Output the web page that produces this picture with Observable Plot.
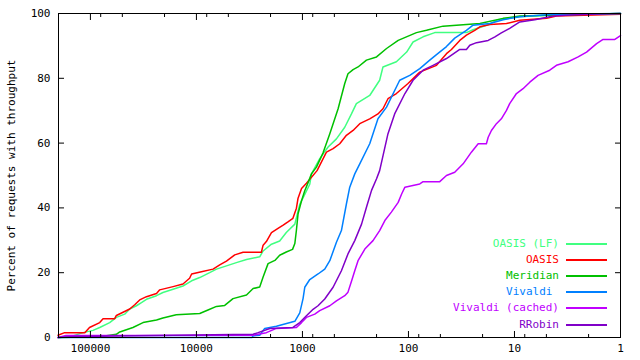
<!DOCTYPE html>
<html><head><meta charset="utf-8">
<script src="https://cdn.jsdelivr.net/npm/d3@7"></script>
<script src="https://cdn.jsdelivr.net/npm/@observablehq/plot@0.6"></script>
<style>
body{margin:0;background:#fff;}
#wrap{position:relative;width:640px;height:360px;font-family:"DejaVu Sans Mono",monospace;}
.lt{position:absolute;font-size:11px;white-space:pre;line-height:16px;height:16px;text-align:right;}
.ll{position:absolute;height:2px;}
</style></head><body><div id="wrap"></div>
<script>
// throughput value, percent of requests
const oasisLF = [[202000,0],[157000,0.2],[117000,1.5],[94500,2.2],[81700,3.1],[65800,4.6],[56900,6.2],[47500,7.2],[42600,8.8],[36800,9.8],[33000,10.8],[29600,11.8],[23800,12.9],[20700,13.9],[16600,14.9],[13400,15.9],[11100,17.5],[9310,18.5],[7500,20],[6470,21.1],[5210,22.1],[4200,23.1],[3370,24.1],[2530,24.9],[2350,26.7],[1960,28.8],[1640,29.8],[1420,32.4],[1180,35],[1120,38],[1060,41.1],[951,44.2],[853,47.3],[822,50.5],[687,55.2],[573,58.8],[478,61.3],[399,64.9],[345,69],[310,72.2],[232,74.7],[187,79.4],[174,83.5],[130,85.1],[104,88.1],[90.5,91.2],[72.8,92.8],[56.5,94.1],[28.4,94.1],[24.6,95],[17.1,96.7],[14.3,98.1],[8.91,99],[4.35,99.5],[1,100]];
const oasis = [[202000,0.7],[175000,1.5],[113000,1.5],[102000,3.1],[81700,4.6],[76000,5.8],[59000,5.8],[56900,6.8],[49200,7.8],[42600,8.8],[38200,10.1],[34300,11.6],[29600,12.6],[23800,13.6],[22200,14.7],[16600,15.7],[13400,16.5],[11600,18.3],[11100,19.6],[8970,20.3],[6970,21.1],[6030,22.4],[5210,23.6],[4350,25.5],[3630,26.3],[2440,26.3],[2350,28.5],[2190,29.6],[1960,32.4],[1700,33.7],[1520,34.7],[1370,35.7],[1230,36.8],[1140,39.9],[1100,43],[1020,46],[917,47.6],[728,51.5],[594,57.2],[514,58.3],[445,59.8],[385,62.4],[333,63.9],[288,66],[232,67.5],[194,69],[174,70.6],[156,73.7],[130,75.3],[101,78.4],[84.1,80.9],[78.2,81.9],[54.4,84],[43.8,87.6],[39.3,88.9],[32.8,91.7],[28.4,93.3],[23.7,94.8],[21.2,95.9],[17.1,96.6],[11.9,96.9],[8.91,97.9],[4.99,98.5],[4.02,99.2],[1,99.8]];
const meridian = [[202000,0],[81700,0.2],[56900,1],[52900,1.7],[39700,3.1],[31900,4.6],[23800,5.4],[20700,6],[15500,7],[9310,7.4],[7780,8.5],[6470,9.6],[5410,9.9],[4520,12],[3370,13.1],[2920,15.1],[2530,15.6],[2350,18.7],[2110,22.8],[1820,23.8],[1640,25.4],[1420,26.4],[1240,27.2],[1180,29],[1140,33.1],[1100,38.2],[1020,42.2],[951,45.3],[885,47.8],[822,50.5],[738,52.6],[639,57],[552,62.9],[461,70.6],[399,78.4],[372,81.4],[333,82.7],[299,83.5],[249,85.6],[200,86.6],[161,89.2],[125,91.7],[84.1,94.1],[67.6,94.8],[47.2,96.1],[21.2,96.9],[12.8,98.5],[8.91,99.2],[2.09,99.8],[1,100]];
const vivaldi = [[202000,0],[3000,0],[2920,0.5],[2530,0.7],[2270,2.8],[1760,3.5],[1180,5],[1060,7.6],[987,12],[951,15.5],[853,17.9],[713,19.6],[616,21.1],[552,23.7],[478,29.4],[429,33],[385,41.2],[358,46.4],[321,50.5],[288,53.6],[232,59.8],[194,67.5],[161,71.1],[121,79.4],[97.2,80.9],[78.2,83],[63,85.6],[54.4,87.3],[43.8,89.8],[36.6,92.4],[28.4,94.8],[24.6,96.4],[17.1,96.9],[12.8,98.1],[8.91,99],[4.32,99.8],[1,100]];
const vivaldiCached = [[202000,0],[170000,0.6],[2920,0.7],[2190,1.5],[1760,2.8],[1140,3.1],[1020,4.6],[917,6.2],[765,7.2],[687,8.3],[552,9.8],[478,11.3],[399,12.9],[372,14],[340,18],[321,20.6],[299,23.7],[258,27.3],[216,29.9],[187,33],[167,36.1],[145,38.7],[125,41.7],[116,44.3],[108,46.4],[78.2,47.4],[72.8,48.1],[50.7,48.1],[43.8,50],[36.6,51],[30.5,53.6],[25.5,57.2],[22,59.8],[18.4,59.8],[17.7,61.8],[16.5,63.9],[14.8,66],[13.3,67.5],[11.9,70.1],[11.1,72.2],[9.58,75.3],[8.3,76.8],[7.17,78.8],[5.99,80.9],[4.65,82.5],[4.02,84],[3.12,85.1],[2.51,86.6],[2.09,88.1],[1.68,90.7],[1.46,92],[1.13,92],[1,93.2]];
const rrobin = [[202000,0],[140000,0.3],[2920,1],[2620,1.5],[2030,2.8],[1230,3.1],[1060,4.6],[917,6.7],[794,8.7],[713,9.8],[616,11.9],[514,15.5],[429,20.6],[372,25.8],[321,29.9],[277,35],[249,40.2],[223,45.4],[200,49],[187,51.5],[156,62.9],[135,69],[108,75.3],[90.5,79.4],[72.8,82.5],[58.6,84],[43.8,86.1],[32.8,88.9],[28.4,88.9],[26.4,90.2],[22.8,91],[17.7,91.7],[15.3,92.8],[13.3,94],[11.1,95.4],[8.91,97.4],[6.43,98.1],[4.32,99.2],[3.01,99.5],[1.95,99.8],[1,100]];

const seriesNames = ["OASIS (LF)", "OASIS", "Meridian", "Vivaldi ", "Vivaldi (cached)", "RRobin"];
const seriesColors = ["#40ff80", "#ff0000", "#00c000", "#0080ff", "#c000ff", "#8000c8"];
const seriesData = [oasisLF, oasis, meridian, vivaldi, vivaldiCached, rrobin];
const xMajorTicks = [100000, 10000, 1000, 100, 10, 1];
const xMinorTicks = [80000, 50000, 20000, 8000, 5000, 2000, 800, 500, 200, 80, 50, 20, 8, 5, 2];
const yTicks = [0, 20, 40, 60, 80, 100];
const yLabel = "Percent of requests with throughput";

const font = "DejaVu Sans Mono, monospace";
const chart = Plot.plot({
  width: 640, height: 360,
  marginLeft: 58, marginRight: 20, marginTop: 13, marginBottom: 23,
  style: {fontFamily: font, fontSize: "11px", background: "white", color: "black", overflow: "visible"},
  x: {type: "log", domain: [200000, 1], axis: null},
  y: {domain: [0, 100], axis: null},
  marks: [
    ...seriesData.map((data, i) => Plot.line(data, {x: d => d[0], y: d => d[1], stroke: seriesColors[i], strokeWidth: 1.5, curve: "linear"})),
    Plot.frame({stroke: "black", strokeWidth: 1}),
    Plot.axisX({ticks: xMajorTicks, anchor: "bottom", tickSize: 6, dy: -6, tickFormat: () => ""}),
    Plot.axisX({ticks: xMajorTicks, anchor: "top", tickSize: 6, dy: 6, tickFormat: () => ""}),
    Plot.axisX({ticks: xMinorTicks, anchor: "bottom", tickSize: 3, dy: -3, tickFormat: () => ""}),
    Plot.axisX({ticks: xMinorTicks, anchor: "top", tickSize: 3, dy: 3, tickFormat: () => ""}),
    Plot.axisX({ticks: xMajorTicks, anchor: "bottom", tickSize: 0, tickPadding: 7, tickFormat: d3.format("d"), fontSize: 11}),
    Plot.axisY({ticks: yTicks, anchor: "left", tickSize: 6, dx: 6, tickFormat: () => ""}),
    Plot.axisY({ticks: yTicks, anchor: "right", tickSize: 6, dx: -6, tickFormat: () => ""}),
    Plot.axisY({ticks: yTicks, anchor: "left", tickSize: 0, tickPadding: 8, tickFormat: d3.format("d"), fontSize: 11}),
    Plot.text([yLabel], {text: d => d, frameAnchor: "left", dx: -47, rotate: -90, textAnchor: "middle", lineAnchor: "middle", fontSize: 11})
  ]
});
const wrap = document.getElementById("wrap");
wrap.appendChild(chart);

// legend inside plot, bottom right
seriesNames.forEach((name, i) => {
  const cy = 243.5 + i * 16.2;
  const t = document.createElement("div");
  t.className = "lt";
  t.textContent = name;
  t.style.right = (640 - 559) + "px";
  t.style.top = (cy - 8) + "px";
  t.style.color = seriesColors[i];
  wrap.appendChild(t);
  const l = document.createElement("div");
  l.className = "ll";
  l.style.left = "566px";
  l.style.width = "41px";
  l.style.top = Math.round(cy - 1) + "px";
  l.style.background = seriesColors[i];
  wrap.appendChild(l);
});
</script></body></html>
